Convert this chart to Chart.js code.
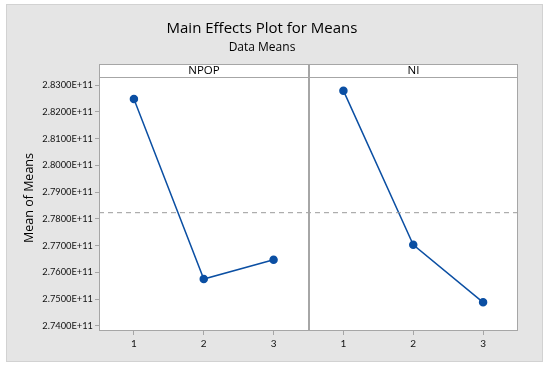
<!DOCTYPE html>
<html>
<head>
<meta charset="utf-8">
<script src="https://cdn.jsdelivr.net/npm/chart.js@4"></script>
<style>
  html, body { margin: 0; padding: 0; background: #fff; }
  #wrap { width: 550px; height: 370px; }
</style>
</head>
<body>
<div id="wrap"><canvas id="myChart" width="550" height="370"></canvas></div>
<script>
// data
const levels = [1, 2, 3];
const panels = ["NPOP", "NI"];
const npopMeans = [2.8248e11, 2.7575e11, 2.7647e11];
const niMeans = [2.8279e11, 2.7703e11, 2.7488e11];
const grandMean = 2.7823e11;
const yTicks = [2.74e11, 2.75e11, 2.76e11, 2.77e11, 2.78e11, 2.79e11, 2.80e11, 2.81e11, 2.82e11, 2.83e11];

const FONT = "'Open Sans', 'Noto Sans', sans-serif";
const TICKFONT = "Lato, 'Open Sans', sans-serif";
const BLUE = "#0b4fa3";
const EDGE = "#a6a6a6";

// each panel takes 3 units on the x scale, NI is shifted right by 3
function points(vals, shift) {
  return levels.map((l, i) => ({ x: l + shift, y: vals[i] }));
}

const framePlugin = {
  id: 'frame',
  beforeDraw(chart) {
    const c = chart.ctx;
    const a = chart.chartArea;
    c.save();
    c.fillStyle = "#fff";
    c.fillRect(0, 0, chart.width, chart.height);
    c.fillStyle = "#e5e5e5";
    c.fillRect(6, 4, 537, 358);
    c.strokeStyle = "#d2d2d2";
    c.lineWidth = 1;
    c.strokeRect(6.5, 4.5, 536, 357);
    c.fillStyle = "#fff";
    c.fillRect(a.left, a.top - 13, a.right - a.left, a.bottom - a.top + 13);

    // titles
    c.fillStyle = "#000";
    c.textAlign = "center";
    c.textBaseline = "middle";
    c.font = "15px " + FONT;
    c.fillText("Main Effects Plot for Means", 262, 29);
    c.font = "12px " + FONT;
    c.fillText("Data Means", 262, 48);

    // y title
    c.translate(29, 198);
    c.rotate(-Math.PI / 2);
    c.font = "12.5px " + FONT;
    c.fillText("Mean of Means", 0, 0);
    c.restore();
  },
  afterDraw(chart) {
    const c = chart.ctx;
    const a = chart.chartArea;
    const xs = chart.scales.x;
    const top = a.top - 13;
    const mid = Math.round(xs.getPixelForValue(3.5));
    c.save();
    c.strokeStyle = EDGE;
    c.lineWidth = 1;
    c.strokeRect(a.left + 0.5, top + 0.5, a.right - a.left - 1, a.bottom - top - 1);
    c.beginPath();
    c.moveTo(a.left, a.top + 0.5);
    c.lineTo(a.right, a.top + 0.5);
    c.stroke();
    c.lineWidth = 2;
    c.beginPath();
    c.moveTo(mid, top);
    c.lineTo(mid, a.bottom);
    c.stroke();

    c.fillStyle = "#000";
    c.font = "11.5px " + FONT;
    c.textAlign = "center";
    c.textBaseline = "middle";
    c.fillText(panels[0], (a.left + mid) / 2, top + 7);
    c.fillText(panels[1], (mid + a.right) / 2, top + 7);
    c.restore();
  }
};

const ctx = document.getElementById('myChart').getContext('2d');

const myChart = new Chart(ctx, {
  type: 'line',
  data: {
    datasets: [{
      label: 'Mean',
      data: [{ x: 0.5, y: grandMean }, { x: 6.5, y: grandMean }],
      borderColor: "#9a9a9a",
      borderWidth: 1,
      borderDash: [5, 4],
      pointRadius: 0,
      fill: false
    },
    {
      label: panels[0],
      data: points(npopMeans, 0),
      borderColor: BLUE,
      backgroundColor: BLUE,
      borderWidth: 1.5,
      pointRadius: 3.5,
      pointBackgroundColor: BLUE,
      pointBorderColor: BLUE,
      fill: false
    },
    {
      label: panels[1],
      data: points(niMeans, 3),
      borderColor: BLUE,
      backgroundColor: BLUE,
      borderWidth: 1.5,
      pointRadius: 3.5,
      pointBackgroundColor: BLUE,
      pointBorderColor: BLUE,
      fill: false
    }]
  },
  options: {
    responsive: false,
    animation: false,
    layout: { padding: { left: 0, top: 77, right: 32, bottom: 19 } },
    plugins: {
      legend: { display: false },
      tooltip: { enabled: false }
    },
    scales: {
      x: {
        type: 'linear',
        min: 0.5,
        max: 6.5,
        afterBuildTicks: (s) => { s.ticks = [1, 2, 3, 4, 5, 6].map(v => ({ value: v })); },
        afterFit: (s) => { s.height = 20; },
        border: { display: false },
        grid: { drawOnChartArea: false, drawTicks: true, tickLength: 4, color: EDGE },
        ticks: {
          color: "#111",
          font: { family: TICKFONT, size: 10 },
          padding: 3,
          maxRotation: 0,
          callback: (v) => levels[(v - 1) % 3]
        }
      },
      y: {
        min: 2.7381e11,
        max: 2.8330e11,
        afterBuildTicks: (s) => { s.ticks = yTicks.map(v => ({ value: v })); },
        afterFit: (s) => { s.width = 99; },
        border: { display: false },
        grid: { drawOnChartArea: false, drawTicks: true, tickLength: 4, color: EDGE },
        ticks: {
          color: "#111",
          font: { family: TICKFONT, size: 9.3 },
          padding: 2,
          callback: (v) => v.toExponential(4).toUpperCase()
        }
      }
    }
  },
  plugins: [framePlugin]
});
</script>
</body>
</html>
